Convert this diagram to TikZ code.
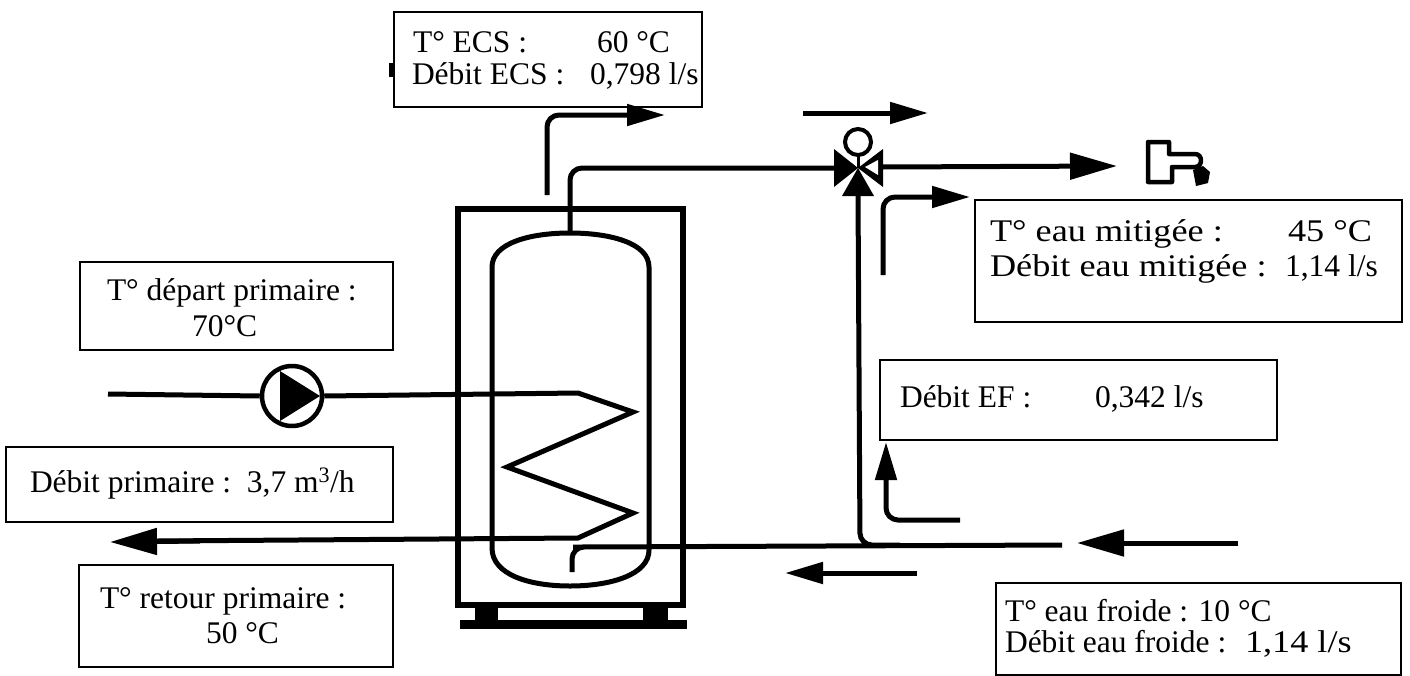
\documentclass[tikz,border=0pt]{standalone}
\usepackage{fontspec}
\setmainfont{Liberation Serif}
\newfontfamily\widefont{Liberation Serif}[FakeStretch=1.15]
\usetikzlibrary{arrows.meta}
\tikzset{
  txt/.style={inner sep=0pt, outer sep=0pt, anchor=base west, font=\fontsize{31.5}{36}\selectfont},
  wtxt/.style={txt, font=\widefont\fontsize{31.5}{36}\selectfont},
  box/.style={draw, line width=1.8pt, inner sep=0pt, outer sep=0pt, anchor=north west},
  pipe/.style={line width=5pt},
  flow/.style={line width=5pt, rounded corners=12pt, -{Triangle[length=38pt,width=21pt]}},
  bigflow/.style={line width=5pt, -{Triangle[length=47pt,width=26pt]}},
}
\begin{document}
\begin{tikzpicture}[x=1pt,y=-1pt]
\useasboundingbox (0,0) rectangle (1410,675);
\fill[white] (0,0) rectangle (1410,675);

% ---------- boxes ----------
\node[box, minimum width=308pt, minimum height=95pt] (bECS) at (394,12) {};
\node[box, minimum width=313pt, minimum height=88pt] (bDep) at (80,262) {};
\node[box, minimum width=387pt, minimum height=75pt] (bDeb) at (6,447) {};
\node[box, minimum width=314pt, minimum height=102pt] (bRet) at (79,565) {};
\node[box, minimum width=427pt, minimum height=122pt] (bMit) at (975,200) {};
\node[box, minimum width=397pt, minimum height=80pt] (bEF) at (880,360) {};
\node[box, minimum width=405pt, minimum height=92pt] (bFro) at (996,583) {};
\fill (389,63) rectangle (394,77);

% ---------- texts ----------
\node[txt] (t1) at (413,52) {T° ECS :};
\node[txt] (t2) at (597,52) {60 °C};
\node[txt] (t3) at (412,84) {Débit ECS :};
\node[txt] (t4) at (590,84) {0,798 l/s};
\node[txt] (t5) at (107,300) {T° départ primaire :};
\node[txt] (t6) at (192,336) {70°C};
\node[txt] (t7) at (30,492) {Débit primaire :\ \ 3,7 m\textsuperscript{3}/h};
\node[txt] (t8) at (100,608) {T° retour primaire :};
\node[txt] (t9) at (206,643) {50 °C};
\node[wtxt] (t10) at (990,241) {T° eau mitigée :};
\node[wtxt] (t11) at (1288,241) {45 °C};
\node[wtxt] (t12) at (990,276) {Débit eau mitigée :};
\node[txt] (t12b) at (1285,276) {1,14 l/s};
\node[txt] (t13) at (900,407) {Débit EF :};
\node[txt] (t14) at (1095,407) {0,342 l/s};
\node[txt] (t15) at (1005,621) {T° eau froide : 10 °C};
\node[txt] (t16) at (1005,652) {Débit eau froide :};
\node[wtxt] (t16b) at (1245,652) {1,14 l/s};

% ---------- tank ----------
\draw[line width=5.5pt] (458,209) rectangle (683,605);
\fill (460,620) rectangle (687,629);
\fill (475,605) rectangle (498,629);
\fill (643,605) rectangle (668,629);
\draw[pipe] (492,548) -- (492,267) .. controls (492,243) and (530,233) .. (570,233)
  .. controls (610,233) and (649,243) .. (649,267) -- (649,550)
  .. controls (649,575) and (610,586) .. (570,586)
  .. controls (530,586) and (492,575) .. (492,548);

% ---------- primary circuit ----------
\coordinate (pIn) at (108,394);
\node[circle, draw, line width=4.5pt, minimum size=60pt, inner sep=0pt] (pump) at (292,396) {};
\fill (280,371) -- (280,421) -- (320,396) -- cycle;
\draw[pipe] (pIn) -- (pump.west);
\draw[pipe, line join=miter] (pump.east) -- (578,393) -- (633,412) -- (507,467) -- (633,513) -- (578,538) -- (157,541);
\coordinate (retTip) at (110,542);
\draw[bigflow] (200,541) -- (retTip);

% ---------- ECS / valve ----------
\coordinate (vC) at (858,168);
\draw[pipe, rounded corners=12pt] (570,233) -- (570,168) -- (836,168);
\fill (834,149) -- (834,187) -- (vC) -- cycle;
\fill (883,149) -- (883,187) -- (vC) -- cycle;
\fill (842,196) -- (874,196) -- (vC) -- cycle;
\fill[white] (865,167) -- (878,160) -- (878,175) -- cycle;
\draw[line width=3pt] (vC) -- (858,154);
\node[circle, draw, line width=4pt, minimum size=26pt, inner sep=0pt] (act) at (858,142) {};
\coordinate (tapTip) at (1117,166);
\draw[bigflow] (882,167) -- (tapTip);

% tap
\draw[line width=4.5pt, line join=round] (1148,142) -- (1169,142) -- (1169,154) -- (1195,154)
  .. controls (1203,154) and (1203,167) .. (1195,167) -- (1172,167) -- (1172,182) -- (1148,182) -- cycle;
\fill (1193,170) -- (1203,166) -- (1210,172) -- (1208,183) -- (1196,186) -- cycle;

% ---------- cold water ----------
\draw[pipe, rounded corners=12pt] (1062,545) -- (585,547) -- (572,547) -- (572,572);
\draw[pipe, rounded corners=12pt] (858,194) -- (860,545) -- (900,545);
\coordinate (cTip) at (1077,543);
\draw[bigflow] (1238,543) -- (cTip);

% ---------- flow arrows ----------
\draw[flow] (547,195) -- (547,115) -- (665,115);
\draw[flow] (803,113) -- (928,113);
\draw[flow] (883,275) -- (883,197) -- (970,197);
\draw[flow] (960,520) -- (886,520) -- (886,442);
\draw[flow] (917,573) -- (785,573);
\end{tikzpicture}
\end{document}
